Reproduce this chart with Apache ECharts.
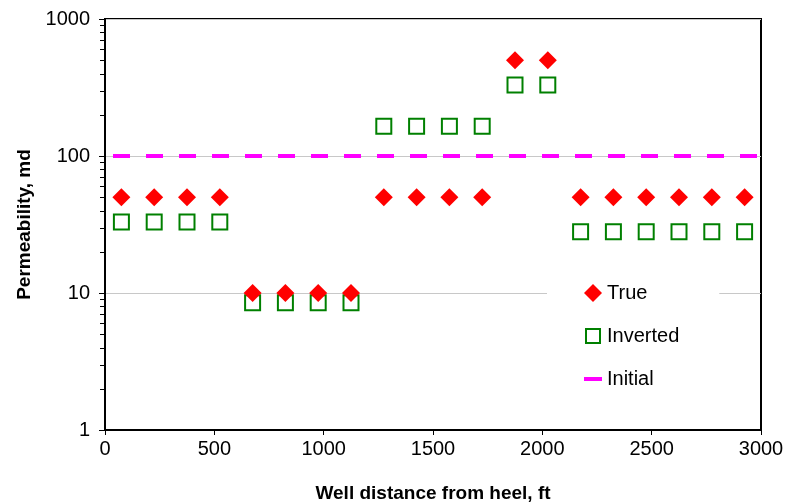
<!DOCTYPE html>
<html>
<head>
<meta charset="utf-8">
<script src="https://cdn.jsdelivr.net/npm/echarts@6/dist/echarts.min.js"></script>
<style>
  html, body { margin: 0; padding: 0; background: #fff; }
  #chart { width: 787px; height: 504px; }
</style>
</head>
<body>
<div id="chart"></div>
<script>
// Well segment mid-points along the lateral, ft
const distance = [75, 225, 375, 525, 675, 825, 975, 1125, 1275, 1425,
                  1575, 1725, 1875, 2025, 2175, 2325, 2475, 2625, 2775, 2925];
// Permeability per segment, md
const truePerm = [50, 50, 50, 50, 10, 10, 10, 10, 50, 50,
                  50, 50, 500, 500, 50, 50, 50, 50, 50, 50];
const invertedPerm = [33, 33, 33, 33, 8.5, 8.5, 8.5, 8.5, 165, 165,
                      165, 165, 330, 330, 28, 28, 28, 28, 28, 28];
// Initial guess used for the inversion
const initialPerm = 100;
const initialRange = [0, 3000];
// Minor tick values on the logarithmic axis
const minorTicks = [2, 3, 4, 5, 6, 7, 8, 9, 20, 30, 40, 50, 60, 70, 80, 90,
                    200, 300, 400, 500, 600, 700, 800, 900];

const font = 'Liberation Sans, Arial, sans-serif';
const chart = echarts.init(document.getElementById('chart'), null, { renderer: 'canvas' });

// Legend keys drawn inside an 18x18 box (the empty move-tos fix the box size)
const lineIcon = 'path://M0,0 L0,0 M0,7 L18,7 L18,11 L0,11 Z M18,18 L18,18';
const squareIcon = 'path://M0,0 L0,0 M2,2 L16,2 L16,16 L2,16 Z M18,18 L18,18';

chart.setOption({
  animation: false,
  backgroundColor: '#ffffff',
  grid: {
    left: 105, right: 26, top: 19, bottom: 74,
    outerBoundsMode: 'none',
    show: true, borderColor: '#000', borderWidth: 2, backgroundColor: 'transparent'
  },
  legend: {
    orient: 'vertical',
    left: 547, top: 275,
    padding: [8, 40, 8, 36],
    backgroundColor: '#ffffff',
    itemGap: 23,
    itemWidth: 18, itemHeight: 18,
    textStyle: { fontFamily: font, fontSize: 20, color: '#000' },
    data: [
      { name: 'True', icon: 'diamond' },
      { name: 'Inverted', icon: squareIcon },
      { name: 'Initial', icon: lineIcon, itemStyle: { color: '#ff00ff' } }
    ]
  },
  xAxis: {
    type: 'value', min: 0, max: 3000, interval: 500,
    name: 'Well distance from heel, ft', nameLocation: 'middle', nameGap: 54,
    nameTextStyle: { fontFamily: font, fontSize: 19, fontWeight: 'bold', color: '#000' },
    axisLine: { show: true, lineStyle: { color: '#000', width: 2 } },
    axisTick: { show: true, inside: false, length: 5, lineStyle: { color: '#000', width: 1 } },
    axisLabel: { fontFamily: font, fontSize: 20, color: '#000', margin: 9,
                 formatter: v => String(v) },
    splitLine: { show: false }
  },
  yAxis: {
    type: 'log', logBase: 10, min: 1, max: 1000,
    name: 'Permeability, md', nameLocation: 'middle', nameGap: 69,
    nameTextStyle: { fontFamily: font, fontSize: 19, fontWeight: 'bold', color: '#000' },
    axisLine: { show: true, lineStyle: { color: '#000', width: 2 } },
    axisTick: { show: true, inside: false, length: 6, lineStyle: { color: '#000', width: 1 } },
    axisLabel: { fontFamily: font, fontSize: 20, color: '#000', margin: 15,
                 formatter: v => String(Math.round(v)) },
    splitLine: { show: true, lineStyle: { color: '#c8c8c8', width: 1 } }
  },
  series: [
    {
      // Short outward ticks between decades on the log axis
      name: 'minor', type: 'custom', silent: true, clip: false, legendHoverLink: false,
      data: minorTicks.map(v => [0, v]),
      renderItem: function (params, api) {
        const p = api.coord([0, api.value(1)]);
        const y = Math.round(p[1]) + 0.5;
        return {
          type: 'line',
          shape: { x1: p[0] - 1, y1: y, x2: p[0] - 5, y2: y },
          style: { stroke: '#000', lineWidth: 1 }
        };
      },
      z: 1
    },
    {
      name: 'Initial', type: 'line', symbol: 'none',
      data: initialRange.map(x => [x, initialPerm]),
      lineStyle: { color: '#ff00ff', width: 4, type: [17, 16], dashOffset: 25 },
      itemStyle: { color: '#ff00ff' },
      z: 2
    },
    {
      name: 'Inverted', type: 'scatter', symbol: 'rect', symbolSize: 15,
      data: distance.map((x, i) => [x, invertedPerm[i]]),
      itemStyle: { color: '#ffffff', opacity: 1, borderColor: '#008000', borderWidth: 2 },
      z: 3
    },
    {
      name: 'True', type: 'scatter', symbol: 'diamond', symbolSize: 18,
      data: distance.map((x, i) => [x, truePerm[i]]),
      itemStyle: { color: '#ff0000', opacity: 1 },
      z: 4
    }
  ]
});
</script>
</body>
</html>
